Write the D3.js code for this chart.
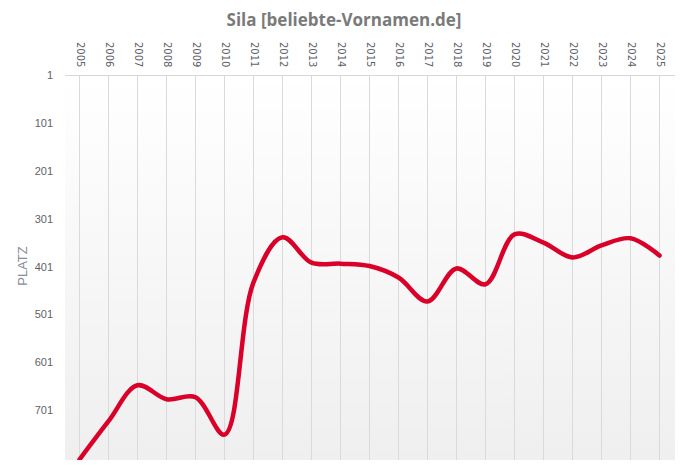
<!DOCTYPE html>
<html lang="de">
<head>
<meta charset="UTF-8">
<title>Sila [beliebte-Vornamen.de]</title>
<script src="https://d3js.org/d3.v7.min.js"></script>
<style>
  body { margin: 0; background: #fff; }
  svg { display: block; }
</style>
</head>
<body>
<div id="chart"></div>
<script>
// chart data
var years = [2005, 2006, 2007, 2008, 2009, 2010, 2011, 2012, 2013, 2014, 2015,
             2016, 2017, 2018, 2019, 2020, 2021, 2022, 2023, 2024, 2025];
var ranks = [804, 724, 649, 678, 674, 752, 434, 340, 393, 395, 400,
             424, 474, 405, 438, 334, 351, 382, 357, 342, 378];
var yTicks = [1, 101, 201, 301, 401, 501, 601, 701];

var w = 689, h = 474;
var plot = {left: 65, right: 675, top: 75, bottom: 460};

var svg = d3.select('#chart').append('svg')
    .attr('width', w)
    .attr('height', h);

var defs = svg.append('defs');
var grad = defs.append('linearGradient')
    .attr('id', 'bg')
    .attr('x1', 0).attr('y1', 0).attr('x2', 0).attr('y2', 1);
grad.append('stop').attr('offset', '0%').attr('stop-color', '#ffffff');
grad.append('stop').attr('offset', '100%').attr('stop-color', '#efefef');

defs.append('clipPath').attr('id', 'clip')
  .append('rect')
    .attr('x', plot.left)
    .attr('y', plot.top - 5)
    .attr('width', plot.right - plot.left)
    .attr('height', plot.bottom - plot.top + 5);

var xScale = d3.scalePoint()
    .domain(years)
    .range([79.5, 659.5]);

// rank axis is reversed: 1 on top
var yScale = d3.scaleLinear()
    .domain([1, 805])
    .range([plot.top, plot.bottom]);

svg.append('rect')
    .attr('x', plot.left)
    .attr('y', plot.top)
    .attr('width', plot.right - plot.left)
    .attr('height', plot.bottom - plot.top)
    .attr('fill', 'url(#bg)');

// vertical grid lines
svg.append('g').selectAll('line')
    .data(years)
    .enter()
    .append('line')
    .attr('x1', function(d){ return xScale(d); })
    .attr('x2', function(d){ return xScale(d); })
    .attr('y1', plot.top)
    .attr('y2', plot.bottom)
    .attr('stroke', '#dadada')
    .attr('stroke-width', 1);

// top axis line
svg.append('line')
    .attr('x1', plot.left).attr('x2', plot.right)
    .attr('y1', plot.top + 0.5).attr('y2', plot.top + 0.5)
    .attr('stroke', '#d8d8d8');

// x axis labels (top, rotated)
var xAxis = d3.axisTop(xScale).tickSize(0).tickPadding(0);
var gx = svg.append('g')
    .attr('id', 'x-axis')
    .attr('transform', 'translate(0,' + 42 + ')')
    .call(xAxis);
gx.select('.domain').remove();
gx.selectAll('text')
    .attr('transform', 'rotate(90)')
    .attr('x', 0)
    .attr('y', 0)
    .attr('dy', '0.35em')
    .style('text-anchor', 'start')
    .style('font-family', '"DejaVu Sans", sans-serif')
    .style('font-size', '10px')
    .style('fill', '#5f5f6a');

// y axis labels
var yAxis = d3.axisLeft(yScale).tickValues(yTicks).tickSize(0).tickPadding(0);
var gy = svg.append('g')
    .attr('id', 'y-axis')
    .attr('transform', 'translate(' + 53 + ',0)')
    .call(yAxis);
gy.select('.domain').remove();
gy.selectAll('text')
    .style('font-family', '"Liberation Sans", Arial, sans-serif')
    .style('font-size', '11px')
    .style('fill', '#5f5f6a');

svg.append('text')
    .attr('transform', 'translate(' + 27 + ',' + 266 + ') rotate(-90)')
    .attr('text-anchor', 'middle')
    .style('font-family', '"Liberation Sans", Arial, sans-serif')
    .style('font-size', '13px')
    .style('fill', '#8a8a9c')
    .text('PLATZ');

// title
svg.append('text')
    .attr('x', 344)
    .attr('y', 26)
    .attr('text-anchor', 'middle')
    .style('font-family', '"Open Sans", Lato, sans-serif')
    .style('font-weight', 'bold')
    .style('font-size', '17px')
    .style('fill', '#7a7a7a')
    .text('Sila [beliebte-Vornamen.de]');

// ranking line
var line = d3.line()
    .x(function(d, i){ return xScale(years[i]); })
    .y(function(d){ return yScale(d); })
    .curve(d3.curveCatmullRom.alpha(0.5));

svg.append('path')
    .datum(ranks)
    .attr('clip-path', 'url(#clip)')
    .attr('d', line)
    .attr('fill', 'none')
    .attr('stroke', '#d90029')
    .attr('stroke-width', 4.5)
    .attr('stroke-linecap', 'round')
    .attr('stroke-linejoin', 'round');
</script>
</body>
</html>
